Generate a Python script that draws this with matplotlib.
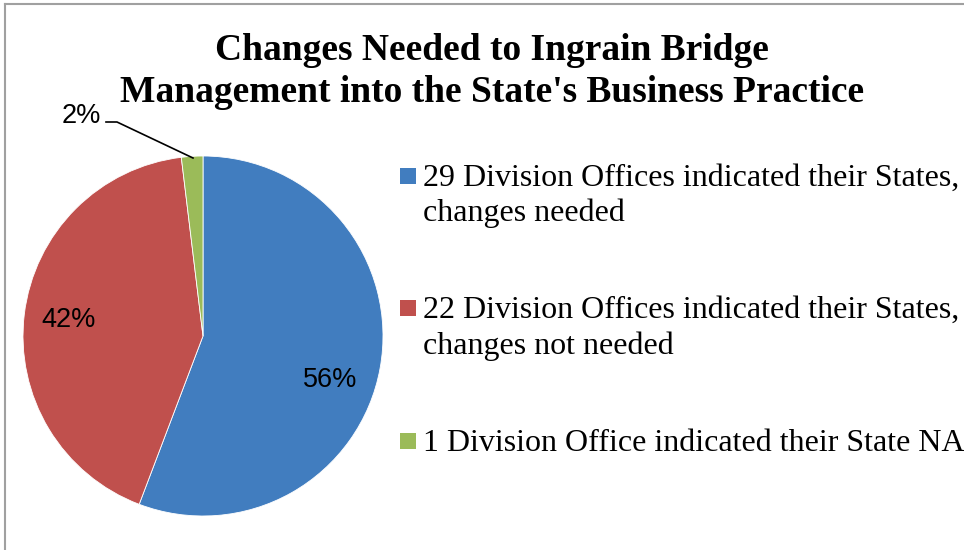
import matplotlib.pyplot as plt
from matplotlib.lines import Line2D
from matplotlib.patches import Rectangle

# data
labels = ['29 Division Offices indicated their States,\nchanges needed',
          '22 Division Offices indicated their States,\nchanges not needed',
          '1 Division Office indicated their State NA']
counts = [29, 22, 1]
pct_text = ['56%', '42%', '2%']
colors = ['#417DBF', '#C0504D', '#9BBB59']

W, H = 964, 550
fig = plt.figure(figsize=(W / 100, H / 100), dpi=100)

def fy(y):
    return 1 - y / H

# chart border (only top and left visible in the crop)
fig.add_artist(Line2D([5 / W, 5 / W], [0, fy(4)], color='#a0a0a0', lw=1.5))
fig.add_artist(Line2D([5 / W, 1], [fy(4), fy(4)], color='#a0a0a0', lw=1.5))

title_lines = ["Changes Needed to Ingrain Bridge",
               "Management into the State's Business Practice"]
for line, yb in zip(title_lines, [60, 102]):
    fig.text(492 / W, fy(yb), line, ha='center', va='baseline',
             fontsize=27, fontweight='bold', family='Liberation Serif')

# pie
cx, cy, r = 203, 336, 180
ax = fig.add_axes([(cx - r) / W, fy(cy + r), 2 * r / W, 2 * r / H])
ax.pie(counts, colors=colors, startangle=90, counterclock=False,
       radius=1, wedgeprops=dict(linewidth=0.6, edgecolor='white'))
ax.set_xlim(-1, 1)
ax.set_ylim(-1, 1)
ax.set_aspect('auto')
ax.axis('off')

def px(x, y):
    return ((x - (cx - r)) / r - 1, 1 - (y - (cy - r)) / r)

lab_font = dict(fontsize=19.5, family='Liberation Sans', ha='center',
                va='baseline', clip_on=False)
for txt, (x, y) in zip(pct_text, [(330, 387), (69, 327), (81, 123)]):
    ax.text(*px(x, y), txt, **lab_font)
pts = [px(106, 122), px(117, 122), px(193, 158)]
ax.plot([p[0] for p in pts], [p[1] for p in pts], color='black', lw=1.2,
        clip_on=False)

# legend
sq_y = [175.5, 308, 441]
for lab, col, y in zip(labels, colors, sq_y):
    fig.add_artist(Rectangle((400 / W, fy(y + 8)), 16 / W, 16 / H,
                             facecolor=col, edgecolor='none'))
    for i, line in enumerate(lab.split('\n')):
        fig.text(423 / W, fy(y + 10 + 36 * i), line, ha='left',
                 va='baseline', fontsize=23, family='Liberation Serif')

fig.savefig('out.png', dpi=100)
